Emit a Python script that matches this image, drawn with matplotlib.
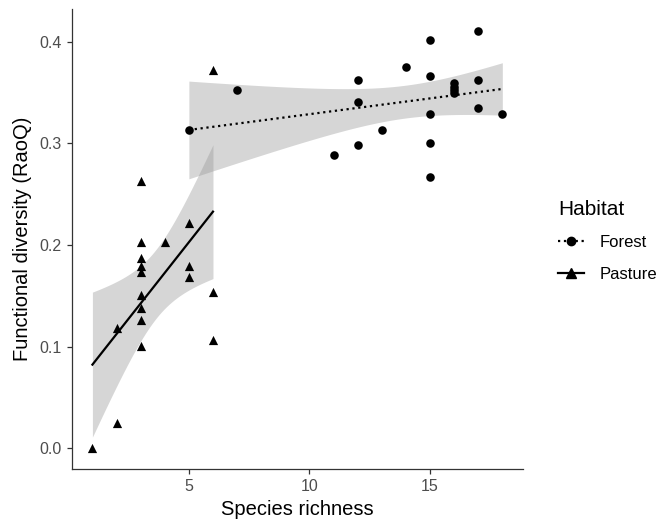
import math
import matplotlib
matplotlib.use('Agg')

import matplotlib.pyplot as plt
import numpy as np
from matplotlib.lines import Line2D

plt.rcParams['font.family'] = ['Liberation Sans', 'DejaVu Sans']

# values
forest_x = [5, 7, 11, 12, 12, 12, 13, 14, 15, 15, 15, 15, 15, 16, 16, 16, 16, 17, 17, 17, 18]
forest_y = [0.313, 0.353, 0.289, 0.363, 0.341, 0.299, 0.313, 0.375, 0.402, 0.366, 0.329,
            0.300, 0.267, 0.360, 0.356, 0.353, 0.350, 0.411, 0.363, 0.335, 0.329]

pasture_x = [1, 2, 2, 3, 3, 3, 3, 3, 3, 3, 3, 3, 4, 5, 5, 5, 6, 6, 6]
pasture_y = [0.000, 0.025, 0.118, 0.263, 0.203, 0.187, 0.179, 0.173, 0.151, 0.138, 0.126,
             0.101, 0.203, 0.222, 0.179, 0.169, 0.372, 0.154, 0.106]

x_ticks = [5, 10, 15]
y_ticks = [0.0, 0.1, 0.2, 0.3, 0.4]


def t_quantile(p, df):
	# bisection on a numerically integrated t density
	grid = np.linspace(0, 20, 200001)
	c = math.gamma((df + 1) / 2) / (math.sqrt(df * math.pi) * math.gamma(df / 2))
	pdf = c * (1 + grid ** 2 / df) ** (-(df + 1) / 2)
	cdf = 0.5 + np.concatenate([[0], np.cumsum((pdf[1:] + pdf[:-1]) / 2 * np.diff(grid))])
	return float(np.interp(p, cdf, grid))


def lm_band(x, y, n=80):
	x = np.asarray(x, float)
	y = np.asarray(y, float)
	b, a = np.polyfit(x, y, 1)
	resid = y - (a + b * x)
	dof = len(x) - 2
	s = np.sqrt(np.sum(resid ** 2) / dof)
	xs = np.linspace(x.min(), x.max(), n)
	se = s * np.sqrt(1 / len(x) + (xs - x.mean()) ** 2 / np.sum((x - x.mean()) ** 2))
	t = t_quantile(0.975, dof)
	fit = a + b * xs
	return xs, fit, fit - t * se, fit + t * se


fig = plt.figure(figsize=(6.66, 5.2), dpi=100)
ax = fig.add_axes([0.108, 0.098, 0.677, 0.885])

for xv, yv, ls in [(forest_x, forest_y, ':'), (pasture_x, pasture_y, '-')]:
	xs, fit, lo, hi = lm_band(xv, yv)
	ax.fill_between(xs, lo, hi, color='#999999', alpha=0.4, linewidth=0, zorder=1)
	ax.plot(xs, fit, color='black', linestyle=ls, linewidth=1.6, zorder=3)

ax.scatter(forest_x, forest_y, marker='o', s=38, color='black', linewidths=0, zorder=4)
ax.scatter(pasture_x, pasture_y, marker='^', s=44, color='black', linewidths=0, zorder=4)

ax.set_xlim(0.15, 18.85)
ax.set_ylim(-0.0206, 0.4326)
ax.set_xticks(x_ticks)
ax.set_yticks(y_ticks)
ax.set_yticklabels(['%.1f' % v for v in y_ticks])

for side in ['top', 'right']:
	ax.spines[side].set_visible(False)
for side in ['left', 'bottom']:
	ax.spines[side].set_color('#333333')
	ax.spines[side].set_linewidth(0.9)
ax.tick_params(length=3.5, width=0.9, color='#333333', labelcolor='#4d4d4d', labelsize=11.5, pad=4)

ax.set_xlabel('Species richness', fontsize=14.5, labelpad=4)
ax.set_ylabel('Functional diversity (RaoQ)', fontsize=14.5, labelpad=5)

handles = [Line2D([], [], color='black', linestyle=':', linewidth=1.6, marker='o', markersize=6),
           Line2D([], [], color='black', linestyle='-', linewidth=1.6, marker='^', markersize=6.5)]
leg = fig.legend(handles, ['Forest', 'Pasture'], title='Habitat', loc='upper left',
                 bbox_to_anchor=(0.815, 0.645), frameon=False, fontsize=12, title_fontsize=15,
                 handlelength=1.6, labelspacing=1.0, handletextpad=0.9)
leg._legend_box.align = 'left'
leg._legend_box.sep = 12

fig.savefig('out.png', dpi=100)
